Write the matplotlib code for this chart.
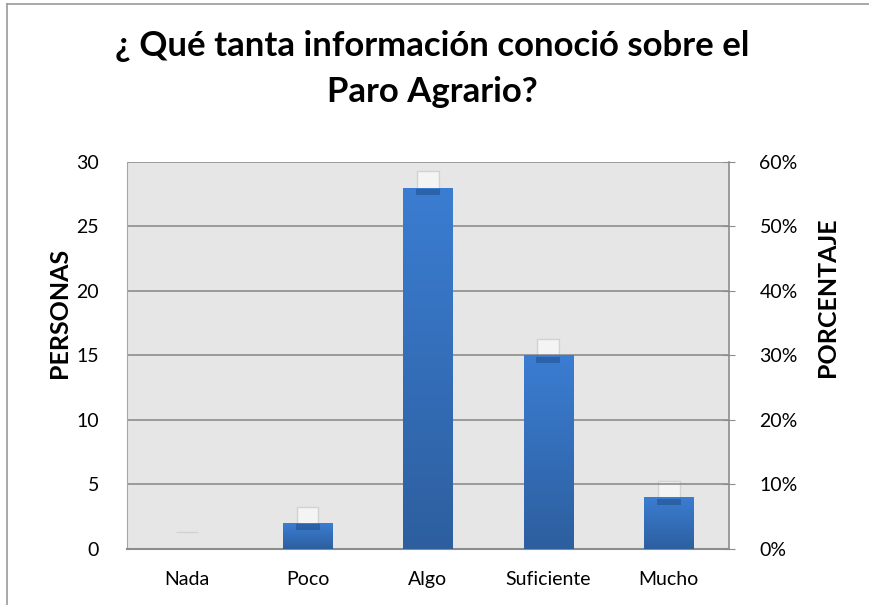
import matplotlib
matplotlib.use("Agg")
import matplotlib.pyplot as plt
import matplotlib.transforms as mtransforms
from matplotlib.lines import Line2D
from matplotlib.path import Path
import numpy as np

plt.rcParams['font.family'] = ['Lato', 'DejaVu Sans']

categorias = ["Nada", "Poco", "Algo", "Suficiente", "Mucho"]
personas = [0, 2, 28, 15, 4]
porcentaje = [0.00, 0.04, 0.56, 0.30, 0.08]

titulo = "¿ Qué tanta información conoció sobre el\nParo Agrario?"

fig = plt.figure(figsize=(8.69, 6.05), dpi=100)
fig.patch.set_facecolor("white")

# marco del grafico (estilo Excel)
fig.add_artist(Line2D([0.008, 0.008], [0, 0.993], transform=fig.transFigure, color="#9a9a9a", lw=1.2))
fig.add_artist(Line2D([0.008, 1.0], [0.993, 0.993], transform=fig.transFigure, color="#9a9a9a", lw=1.2))

pos = [0.1461, 0.0926, 0.6927, 0.6397]
ax2 = fig.add_axes(pos)
ax = fig.add_axes(pos)
ax.set_zorder(ax2.get_zorder() + 1)
ax.patch.set_visible(False)
ax2.set_facecolor("#e6e6e6")

x = np.arange(len(categorias))

# serie de porcentaje: cajitas blancas detras de las barras
sube = mtransforms.ScaledTranslation(0, 12 / 72, fig.dpi_scale_trans)
ax2.bar(x, porcentaje, width=0.18, color="#f4f4f4", edgecolor="#d2d2d2", lw=1.0,
        transform=ax2.transData + sube, zorder=2)
ax2.set_xlim(-0.5, len(categorias) - 0.5)
ax2.set_xticks([])
ax2.set_ylim(0, 0.6)
ax2.set_yticks(np.arange(0, 0.61, 0.1))
ax2.set_yticklabels([f"{int(round(v * 100))}%" for v in np.arange(0, 0.61, 0.1)])
ax2.yaxis.tick_right()
ax2.tick_params(axis="y", direction="inout", length=8, color="#8c8c8c", labelsize=14, pad=18)
for s in ["top", "left", "bottom"]:
    ax2.spines[s].set_visible(False)
ax2.spines["right"].set_color("#8c8c8c")
ax2.spines["right"].set_linewidth(1.2)

# barras principales con degradado
barras = ax.bar(x, personas, width=0.41, color="#3a78c9", zorder=3)
grad = np.linspace(0, 1, 256).reshape(-1, 1)
cmap = matplotlib.colors.LinearSegmentedColormap.from_list("azul", ["#2d5f9f", "#3b7dd2"])
for b in barras:
    if b.get_height() <= 0:
        continue
    bx, by = b.get_x(), b.get_y()
    im = ax.imshow(grad, cmap=cmap, origin="lower", aspect="auto",
                   extent=[bx, bx + b.get_width(), by, by + b.get_height()], zorder=3)
    im.set_clip_path(b)

# sombra de la caja sobre la parte alta de cada barra
banda = Path([(-1, -0.22), (1, -0.22), (1, 0.22), (-1, 0.22), (-1, -0.22)],
             [Path.MOVETO, Path.LINETO, Path.LINETO, Path.LINETO, Path.CLOSEPOLY])
baja = mtransforms.ScaledTranslation(0, -3 / 72, fig.dpi_scale_trans)
alto = [v for v in personas if v > 0]
xs = [xi for xi, v in zip(x, personas) if v > 0]
ax.plot(xs, alto, ls="none", marker=banda, markersize=17, color="#1f4a80", alpha=0.5,
        markeredgewidth=0, transform=ax.transData + baja, zorder=4)

ax.set_xlim(-0.5, len(categorias) - 0.5)
ax.set_ylim(0, 30)
ax.set_yticks(range(0, 31, 5))
ax.yaxis.grid(True, color="#8c8c8c", lw=1.2)
ax.set_axisbelow(True)
ax.tick_params(axis="y", length=0, labelsize=14, pad=20)
ax.tick_params(axis="x", length=0, labelsize=14, pad=16)
ax.set_xticks(x)
ax.set_xticklabels(categorias)
ax.spines["top"].set_visible(False)
ax.spines["right"].set_visible(False)
ax.spines["left"].set_color("#a6a6a6")
ax.spines["bottom"].set_color("#8c8c8c")
ax.spines["bottom"].set_linewidth(1.5)

# titulos de los ejes
fig.text(0.069, 0.483, "PERSONAS", rotation=90, ha="center", va="center",
         fontsize=18, fontweight="bold")
fig.text(0.952, 0.509, "PORCENTAJE", rotation=90, ha="center", va="center",
         fontsize=18, fontweight="bold")

fig.suptitle(titulo, fontsize=25, fontweight="bold", y=0.95, va="top", x=0.497, linespacing=1.53)

fig.savefig("out.png", dpi=100)
